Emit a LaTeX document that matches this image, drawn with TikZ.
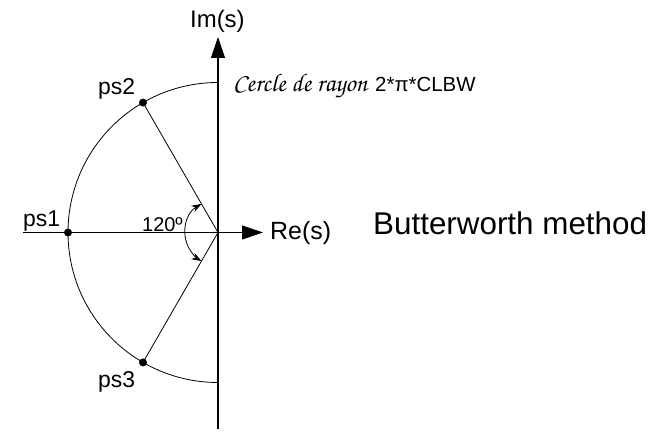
\documentclass[tikz,border=0pt]{standalone}
\usepackage{graphicx}
\usepackage{fontspec}
\setmainfont{Liberation Sans}
\newfontfamily\scriptcercle{TeX Gyre Chorus}
\usetikzlibrary{arrows.meta,calc}
\begin{document}
\begin{tikzpicture}[x=1bp,y=1bp,
  lbl/.style={inner sep=0pt, anchor=base west},
  axisline/.style={line width=1.1bp, -{Triangle[length=21bp,width=14bp]}},
  fineline/.style={line width=0.8bp},
  pole/.style={circle, fill=black, inner sep=0pt, minimum size=8bp},
  anglearrow/.style={line width=0.8bp, {Stealth[length=10bp,width=7bp]}-{Stealth[length=10bp,width=7bp]}}
]
\useasboundingbox (0,0) rectangle (663,434);
\coordinate (O) at (218,201.5);
\coordinate (xstart) at (23,201.5);
\coordinate (xend) at (263,201.5);
\coordinate (ystart) at (218,5);
\coordinate (yend) at (218,397);
% circle arc
\draw[fineline] (O) ++(90:150) arc[start angle=90, end angle=270, radius=150];
% axes
\draw[axisline] (xstart) -- (xend);
\draw[axisline] (ystart) -- (yend);
% poles
\node[pole] (ps1) at ($(O)+(180:150)$) {};
\node[pole] (ps2) at ($(O)+(120:150)$) {};
\node[pole] (ps3) at ($(O)+(240:150)$) {};
\draw[fineline] (ps2.center) -- (O);
\draw[fineline] (ps3.center) -- (O);
% angle
\draw[anglearrow] (O) ++(120:33) arc[start angle=120, end angle=240, radius=33];
% labels
\node[lbl, font=\fontsize{24}{24}\selectfont] (im) at (190,406) {Im(s)};
\node[lbl, font=\fontsize{25}{25}\selectfont] (re) at (270,194) {Re(s)};
\node[lbl, font=\fontsize{23}{23}\selectfont] (l1) at (23,207) {ps1};
\node[lbl, font=\fontsize{23}{23}\selectfont] (l2) at (98,339) {ps2};
\node[lbl, font=\fontsize{23}{23}\selectfont] (l3) at (98,46) {ps3};
\node[lbl, font=\fontsize{20}{20}\selectfont] (ang) at (142,202) {120º};
\node[lbl, font=\fontsize{31.5}{31.5}\selectfont] (bm) at (373,199) {Butterworth method};
\node[lbl] (cer) at (233,342) {\resizebox{134bp}{!}{\scriptcercle Cercle de rayon}};
\node[lbl, font=\fontsize{20.5}{20.5}\selectfont] (clbw) at (375,342) {2*π*CLBW};
\end{tikzpicture}
\end{document}
